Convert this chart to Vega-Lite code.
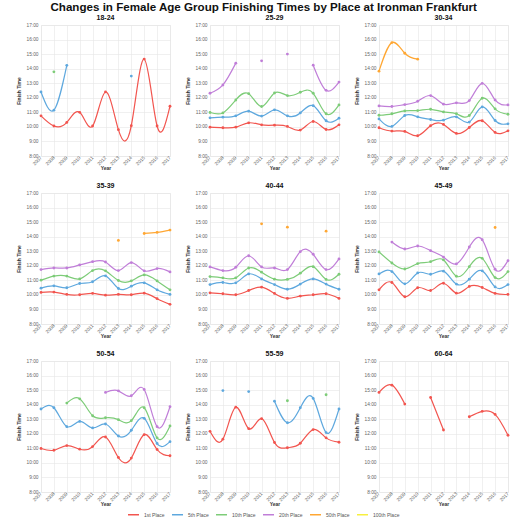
{
  "$schema": "https://vega.github.io/schema/vega-lite/v6.json",
  "title": {"text": "Changes in Female Age Group Finishing Times by Place at Ironman Frankfurt", "fontSize": 11.6, "font": "Liberation Sans", "fontWeight": "bold", "color": "#111", "offset": 0, "anchor": "middle"},
  "padding": {"left": 16, "top": 1, "right": 8, "bottom": 0},
  "data": {"values": [
    {"g": "18-24", "yr": 2007, "p": "1st Place", "t": 10.76},
    {"g": "18-24", "yr": 2008, "p": "1st Place", "t": 10.06},
    {"g": "18-24", "yr": 2009, "p": "1st Place", "t": 10.31},
    {"g": "18-24", "yr": 2010, "p": "1st Place", "t": 11.0},
    {"g": "18-24", "yr": 2011, "p": "1st Place", "t": 10.06},
    {"g": "18-24", "yr": 2012, "p": "1st Place", "t": 12.4},
    {"g": "18-24", "yr": 2013, "p": "1st Place", "t": 9.81},
    {"g": "18-24", "yr": 2014, "p": "1st Place", "t": 10.08},
    {"g": "18-24", "yr": 2015, "p": "1st Place", "t": 14.66},
    {"g": "18-24", "yr": 2016, "p": "1st Place", "t": 10.06},
    {"g": "18-24", "yr": 2017, "p": "1st Place", "t": 11.42},
    {"g": "18-24", "yr": 2007, "p": "5th Place", "t": 12.4},
    {"g": "18-24", "yr": 2008, "p": "5th Place", "t": 11.15},
    {"g": "18-24", "yr": 2009, "p": "5th Place", "t": 14.23},
    {"g": "18-24", "yr": 2010, "p": "5th Place", "t": null},
    {"g": "18-24", "yr": 2014, "p": "5th Place", "t": 13.49},
    {"g": "18-24", "yr": 2008, "p": "10th Place", "t": 13.78},

    {"g": "25-29", "yr": 2007, "p": "1st Place", "t": 9.98},
    {"g": "25-29", "yr": 2008, "p": "1st Place", "t": 9.94},
    {"g": "25-29", "yr": 2009, "p": "1st Place", "t": 9.98},
    {"g": "25-29", "yr": 2010, "p": "1st Place", "t": 10.28},
    {"g": "25-29", "yr": 2011, "p": "1st Place", "t": 10.14},
    {"g": "25-29", "yr": 2012, "p": "1st Place", "t": 10.12},
    {"g": "25-29", "yr": 2013, "p": "1st Place", "t": 10.03},
    {"g": "25-29", "yr": 2014, "p": "1st Place", "t": 9.78},
    {"g": "25-29", "yr": 2015, "p": "1st Place", "t": 10.37},
    {"g": "25-29", "yr": 2016, "p": "1st Place", "t": 9.82},
    {"g": "25-29", "yr": 2017, "p": "1st Place", "t": 10.14},
    {"g": "25-29", "yr": 2007, "p": "5th Place", "t": 10.62},
    {"g": "25-29", "yr": 2008, "p": "5th Place", "t": 10.67},
    {"g": "25-29", "yr": 2009, "p": "5th Place", "t": 10.76},
    {"g": "25-29", "yr": 2010, "p": "5th Place", "t": 11.08},
    {"g": "25-29", "yr": 2011, "p": "5th Place", "t": 10.74},
    {"g": "25-29", "yr": 2012, "p": "5th Place", "t": 11.17},
    {"g": "25-29", "yr": 2013, "p": "5th Place", "t": 10.76},
    {"g": "25-29", "yr": 2014, "p": "5th Place", "t": 10.96},
    {"g": "25-29", "yr": 2015, "p": "5th Place", "t": 11.46},
    {"g": "25-29", "yr": 2016, "p": "5th Place", "t": 10.42},
    {"g": "25-29", "yr": 2017, "p": "5th Place", "t": 10.6},
    {"g": "25-29", "yr": 2007, "p": "10th Place", "t": 10.99},
    {"g": "25-29", "yr": 2008, "p": "10th Place", "t": 10.96},
    {"g": "25-29", "yr": 2009, "p": "10th Place", "t": 11.85},
    {"g": "25-29", "yr": 2010, "p": "10th Place", "t": 12.28},
    {"g": "25-29", "yr": 2011, "p": "10th Place", "t": 11.4},
    {"g": "25-29", "yr": 2012, "p": "10th Place", "t": 12.33},
    {"g": "25-29", "yr": 2013, "p": "10th Place", "t": 12.15},
    {"g": "25-29", "yr": 2014, "p": "10th Place", "t": 12.38},
    {"g": "25-29", "yr": 2015, "p": "10th Place", "t": 12.31},
    {"g": "25-29", "yr": 2016, "p": "10th Place", "t": 10.9},
    {"g": "25-29", "yr": 2017, "p": "10th Place", "t": 11.51},
    {"g": "25-29", "yr": 2007, "p": "20th Place", "t": 12.31},
    {"g": "25-29", "yr": 2008, "p": "20th Place", "t": 12.88},
    {"g": "25-29", "yr": 2009, "p": "20th Place", "t": 14.38},
    {"g": "25-29", "yr": 2010, "p": "20th Place", "t": null},
    {"g": "25-29", "yr": 2011, "p": "20th Place", "t": 14.54},
    {"g": "25-29", "yr": 2012, "p": "20th Place", "t": null},
    {"g": "25-29", "yr": 2013, "p": "20th Place", "t": 15.0},
    {"g": "25-29", "yr": 2014, "p": "20th Place", "t": null},
    {"g": "25-29", "yr": 2015, "p": "20th Place", "t": 14.24},
    {"g": "25-29", "yr": 2016, "p": "20th Place", "t": 12.51},
    {"g": "25-29", "yr": 2017, "p": "20th Place", "t": 13.08},

    {"g": "30-34", "yr": 2007, "p": "1st Place", "t": 9.94},
    {"g": "30-34", "yr": 2008, "p": "1st Place", "t": 9.71},
    {"g": "30-34", "yr": 2009, "p": "1st Place", "t": 9.69},
    {"g": "30-34", "yr": 2010, "p": "1st Place", "t": 9.39},
    {"g": "30-34", "yr": 2011, "p": "1st Place", "t": 10.08},
    {"g": "30-34", "yr": 2012, "p": "1st Place", "t": 10.17},
    {"g": "30-34", "yr": 2013, "p": "1st Place", "t": 9.55},
    {"g": "30-34", "yr": 2014, "p": "1st Place", "t": 9.96},
    {"g": "30-34", "yr": 2015, "p": "1st Place", "t": 10.42},
    {"g": "30-34", "yr": 2016, "p": "1st Place", "t": 9.62},
    {"g": "30-34", "yr": 2017, "p": "1st Place", "t": 9.73},
    {"g": "30-34", "yr": 2007, "p": "5th Place", "t": 10.55},
    {"g": "30-34", "yr": 2008, "p": "5th Place", "t": 10.03},
    {"g": "30-34", "yr": 2009, "p": "5th Place", "t": 10.78},
    {"g": "30-34", "yr": 2010, "p": "5th Place", "t": 10.69},
    {"g": "30-34", "yr": 2011, "p": "5th Place", "t": 10.51},
    {"g": "30-34", "yr": 2012, "p": "5th Place", "t": 10.46},
    {"g": "30-34", "yr": 2013, "p": "5th Place", "t": 10.69},
    {"g": "30-34", "yr": 2014, "p": "5th Place", "t": 10.33},
    {"g": "30-34", "yr": 2015, "p": "5th Place", "t": 11.37},
    {"g": "30-34", "yr": 2016, "p": "5th Place", "t": 10.44},
    {"g": "30-34", "yr": 2017, "p": "5th Place", "t": 10.21},
    {"g": "30-34", "yr": 2007, "p": "10th Place", "t": 10.8},
    {"g": "30-34", "yr": 2008, "p": "10th Place", "t": 10.9},
    {"g": "30-34", "yr": 2009, "p": "10th Place", "t": 11.1},
    {"g": "30-34", "yr": 2010, "p": "10th Place", "t": 11.12},
    {"g": "30-34", "yr": 2011, "p": "10th Place", "t": 11.21},
    {"g": "30-34", "yr": 2012, "p": "10th Place", "t": 11.03},
    {"g": "30-34", "yr": 2013, "p": "10th Place", "t": 10.9},
    {"g": "30-34", "yr": 2014, "p": "10th Place", "t": 10.78},
    {"g": "30-34", "yr": 2015, "p": "10th Place", "t": 11.97},
    {"g": "30-34", "yr": 2016, "p": "10th Place", "t": 11.24},
    {"g": "30-34", "yr": 2017, "p": "10th Place", "t": 10.87},
    {"g": "30-34", "yr": 2007, "p": "20th Place", "t": 11.44},
    {"g": "30-34", "yr": 2008, "p": "20th Place", "t": 11.4},
    {"g": "30-34", "yr": 2009, "p": "20th Place", "t": 11.53},
    {"g": "30-34", "yr": 2010, "p": "20th Place", "t": 11.76},
    {"g": "30-34", "yr": 2011, "p": "20th Place", "t": 12.15},
    {"g": "30-34", "yr": 2012, "p": "20th Place", "t": 11.56},
    {"g": "30-34", "yr": 2013, "p": "20th Place", "t": 11.65},
    {"g": "30-34", "yr": 2014, "p": "20th Place", "t": 11.81},
    {"g": "30-34", "yr": 2015, "p": "20th Place", "t": 12.99},
    {"g": "30-34", "yr": 2016, "p": "20th Place", "t": 11.85},
    {"g": "30-34", "yr": 2017, "p": "20th Place", "t": 11.51},
    {"g": "30-34", "yr": 2007, "p": "50th Place", "t": 13.83},
    {"g": "30-34", "yr": 2008, "p": "50th Place", "t": 15.79},
    {"g": "30-34", "yr": 2009, "p": "50th Place", "t": 15.06},
    {"g": "30-34", "yr": 2010, "p": "50th Place", "t": 14.65},

    {"g": "35-39", "yr": 2007, "p": "1st Place", "t": 10.17},
    {"g": "35-39", "yr": 2008, "p": "1st Place", "t": 10.19},
    {"g": "35-39", "yr": 2009, "p": "1st Place", "t": 10.03},
    {"g": "35-39", "yr": 2010, "p": "1st Place", "t": 10.01},
    {"g": "35-39", "yr": 2011, "p": "1st Place", "t": 10.1},
    {"g": "35-39", "yr": 2012, "p": "1st Place", "t": 9.98},
    {"g": "35-39", "yr": 2013, "p": "1st Place", "t": 10.03},
    {"g": "35-39", "yr": 2014, "p": "1st Place", "t": 10.01},
    {"g": "35-39", "yr": 2015, "p": "1st Place", "t": 10.12},
    {"g": "35-39", "yr": 2016, "p": "1st Place", "t": 9.74},
    {"g": "35-39", "yr": 2017, "p": "1st Place", "t": 9.35},
    {"g": "35-39", "yr": 2007, "p": "5th Place", "t": 10.46},
    {"g": "35-39", "yr": 2008, "p": "5th Place", "t": 10.62},
    {"g": "35-39", "yr": 2009, "p": "5th Place", "t": 10.49},
    {"g": "35-39", "yr": 2010, "p": "5th Place", "t": 10.78},
    {"g": "35-39", "yr": 2011, "p": "5th Place", "t": 10.9},
    {"g": "35-39", "yr": 2012, "p": "5th Place", "t": 11.31},
    {"g": "35-39", "yr": 2013, "p": "5th Place", "t": 10.44},
    {"g": "35-39", "yr": 2014, "p": "5th Place", "t": 10.6},
    {"g": "35-39", "yr": 2015, "p": "5th Place", "t": 10.83},
    {"g": "35-39", "yr": 2016, "p": "5th Place", "t": 10.35},
    {"g": "35-39", "yr": 2017, "p": "5th Place", "t": 10.03},
    {"g": "35-39", "yr": 2007, "p": "10th Place", "t": 11.01},
    {"g": "35-39", "yr": 2008, "p": "10th Place", "t": 11.29},
    {"g": "35-39", "yr": 2009, "p": "10th Place", "t": 11.29},
    {"g": "35-39", "yr": 2010, "p": "10th Place", "t": 11.1},
    {"g": "35-39", "yr": 2011, "p": "10th Place", "t": 11.67},
    {"g": "35-39", "yr": 2012, "p": "10th Place", "t": 11.65},
    {"g": "35-39", "yr": 2013, "p": "10th Place", "t": 10.99},
    {"g": "35-39", "yr": 2014, "p": "10th Place", "t": 10.96},
    {"g": "35-39", "yr": 2015, "p": "10th Place", "t": 11.37},
    {"g": "35-39", "yr": 2016, "p": "10th Place", "t": 10.96},
    {"g": "35-39", "yr": 2017, "p": "10th Place", "t": 10.35},
    {"g": "35-39", "yr": 2007, "p": "20th Place", "t": 11.74},
    {"g": "35-39", "yr": 2008, "p": "20th Place", "t": 11.85},
    {"g": "35-39", "yr": 2009, "p": "20th Place", "t": 11.85},
    {"g": "35-39", "yr": 2010, "p": "20th Place", "t": 12.06},
    {"g": "35-39", "yr": 2011, "p": "20th Place", "t": 12.28},
    {"g": "35-39", "yr": 2012, "p": "20th Place", "t": 12.26},
    {"g": "35-39", "yr": 2013, "p": "20th Place", "t": 11.67},
    {"g": "35-39", "yr": 2014, "p": "20th Place", "t": 12.22},
    {"g": "35-39", "yr": 2015, "p": "20th Place", "t": 11.65},
    {"g": "35-39", "yr": 2016, "p": "20th Place", "t": 11.81},
    {"g": "35-39", "yr": 2017, "p": "20th Place", "t": 11.58},
    {"g": "35-39", "yr": 2013, "p": "50th Place", "t": 13.74},
    {"g": "35-39", "yr": 2014, "p": "50th Place", "t": null},
    {"g": "35-39", "yr": 2015, "p": "50th Place", "t": 14.22},
    {"g": "35-39", "yr": 2016, "p": "50th Place", "t": 14.29},
    {"g": "35-39", "yr": 2017, "p": "50th Place", "t": 14.45},

    {"g": "40-44", "yr": 2007, "p": "1st Place", "t": 10.14},
    {"g": "40-44", "yr": 2008, "p": "1st Place", "t": 10.08},
    {"g": "40-44", "yr": 2009, "p": "1st Place", "t": 10.01},
    {"g": "40-44", "yr": 2010, "p": "1st Place", "t": 10.3},
    {"g": "40-44", "yr": 2011, "p": "1st Place", "t": 10.53},
    {"g": "40-44", "yr": 2012, "p": "1st Place", "t": 10.1},
    {"g": "40-44", "yr": 2013, "p": "1st Place", "t": 9.76},
    {"g": "40-44", "yr": 2014, "p": "1st Place", "t": 9.92},
    {"g": "40-44", "yr": 2015, "p": "1st Place", "t": 10.01},
    {"g": "40-44", "yr": 2016, "p": "1st Place", "t": 10.08},
    {"g": "40-44", "yr": 2017, "p": "1st Place", "t": 9.76},
    {"g": "40-44", "yr": 2007, "p": "5th Place", "t": 10.71},
    {"g": "40-44", "yr": 2008, "p": "5th Place", "t": 10.85},
    {"g": "40-44", "yr": 2009, "p": "5th Place", "t": 10.83},
    {"g": "40-44", "yr": 2010, "p": "5th Place", "t": 11.44},
    {"g": "40-44", "yr": 2011, "p": "5th Place", "t": 11.1},
    {"g": "40-44", "yr": 2012, "p": "5th Place", "t": 10.71},
    {"g": "40-44", "yr": 2013, "p": "5th Place", "t": 10.39},
    {"g": "40-44", "yr": 2014, "p": "5th Place", "t": 10.74},
    {"g": "40-44", "yr": 2015, "p": "5th Place", "t": 11.1},
    {"g": "40-44", "yr": 2016, "p": "5th Place", "t": 10.74},
    {"g": "40-44", "yr": 2017, "p": "5th Place", "t": 10.39},
    {"g": "40-44", "yr": 2007, "p": "10th Place", "t": 11.26},
    {"g": "40-44", "yr": 2008, "p": "10th Place", "t": 11.17},
    {"g": "40-44", "yr": 2009, "p": "10th Place", "t": 11.17},
    {"g": "40-44", "yr": 2010, "p": "10th Place", "t": 11.85},
    {"g": "40-44", "yr": 2011, "p": "10th Place", "t": 11.56},
    {"g": "40-44", "yr": 2012, "p": "10th Place", "t": 11.08},
    {"g": "40-44", "yr": 2013, "p": "10th Place", "t": 11.06},
    {"g": "40-44", "yr": 2014, "p": "10th Place", "t": 11.49},
    {"g": "40-44", "yr": 2015, "p": "10th Place", "t": 11.94},
    {"g": "40-44", "yr": 2016, "p": "10th Place", "t": 11.06},
    {"g": "40-44", "yr": 2017, "p": "10th Place", "t": 11.42},
    {"g": "40-44", "yr": 2007, "p": "20th Place", "t": 11.92},
    {"g": "40-44", "yr": 2008, "p": "20th Place", "t": 11.67},
    {"g": "40-44", "yr": 2009, "p": "20th Place", "t": 11.9},
    {"g": "40-44", "yr": 2010, "p": "20th Place", "t": 12.69},
    {"g": "40-44", "yr": 2011, "p": "20th Place", "t": 11.92},
    {"g": "40-44", "yr": 2012, "p": "20th Place", "t": 11.85},
    {"g": "40-44", "yr": 2013, "p": "20th Place", "t": 11.74},
    {"g": "40-44", "yr": 2014, "p": "20th Place", "t": 12.97},
    {"g": "40-44", "yr": 2015, "p": "20th Place", "t": 12.79},
    {"g": "40-44", "yr": 2016, "p": "20th Place", "t": 11.74},
    {"g": "40-44", "yr": 2017, "p": "20th Place", "t": 12.47},
    {"g": "40-44", "yr": 2011, "p": "50th Place", "t": 14.88},
    {"g": "40-44", "yr": 2012, "p": "50th Place", "t": null},
    {"g": "40-44", "yr": 2013, "p": "50th Place", "t": 14.65},
    {"g": "40-44", "yr": 2014, "p": "50th Place", "t": null},
    {"g": "40-44", "yr": 2016, "p": "50th Place", "t": 14.38},

    {"g": "45-49", "yr": 2007, "p": "1st Place", "t": 10.35},
    {"g": "45-49", "yr": 2008, "p": "1st Place", "t": 10.85},
    {"g": "45-49", "yr": 2009, "p": "1st Place", "t": 9.87},
    {"g": "45-49", "yr": 2010, "p": "1st Place", "t": 10.49},
    {"g": "45-49", "yr": 2011, "p": "1st Place", "t": 10.3},
    {"g": "45-49", "yr": 2012, "p": "1st Place", "t": 10.8},
    {"g": "45-49", "yr": 2013, "p": "1st Place", "t": 10.12},
    {"g": "45-49", "yr": 2014, "p": "1st Place", "t": 10.58},
    {"g": "45-49", "yr": 2015, "p": "1st Place", "t": 10.51},
    {"g": "45-49", "yr": 2016, "p": "1st Place", "t": 10.1},
    {"g": "45-49", "yr": 2017, "p": "1st Place", "t": 10.03},
    {"g": "45-49", "yr": 2007, "p": "5th Place", "t": 11.44},
    {"g": "45-49", "yr": 2008, "p": "5th Place", "t": 11.6},
    {"g": "45-49", "yr": 2009, "p": "5th Place", "t": 10.76},
    {"g": "45-49", "yr": 2010, "p": "5th Place", "t": 11.51},
    {"g": "45-49", "yr": 2011, "p": "5th Place", "t": 11.42},
    {"g": "45-49", "yr": 2012, "p": "5th Place", "t": 11.63},
    {"g": "45-49", "yr": 2013, "p": "5th Place", "t": 10.74},
    {"g": "45-49", "yr": 2014, "p": "5th Place", "t": 11.08},
    {"g": "45-49", "yr": 2015, "p": "5th Place", "t": 11.65},
    {"g": "45-49", "yr": 2016, "p": "5th Place", "t": 10.55},
    {"g": "45-49", "yr": 2017, "p": "5th Place", "t": 10.71},
    {"g": "45-49", "yr": 2007, "p": "10th Place", "t": 12.95},
    {"g": "45-49", "yr": 2008, "p": "10th Place", "t": 12.19},
    {"g": "45-49", "yr": 2009, "p": "10th Place", "t": 11.78},
    {"g": "45-49", "yr": 2010, "p": "10th Place", "t": 12.15},
    {"g": "45-49", "yr": 2011, "p": "10th Place", "t": 12.28},
    {"g": "45-49", "yr": 2012, "p": "10th Place", "t": 12.4},
    {"g": "45-49", "yr": 2013, "p": "10th Place", "t": 11.28},
    {"g": "45-49", "yr": 2014, "p": "10th Place", "t": 11.94},
    {"g": "45-49", "yr": 2015, "p": "10th Place", "t": 12.51},
    {"g": "45-49", "yr": 2016, "p": "10th Place", "t": 11.19},
    {"g": "45-49", "yr": 2017, "p": "10th Place", "t": 11.6},
    {"g": "45-49", "yr": 2008, "p": "20th Place", "t": 13.63},
    {"g": "45-49", "yr": 2009, "p": "20th Place", "t": 13.15},
    {"g": "45-49", "yr": 2010, "p": "20th Place", "t": 13.36},
    {"g": "45-49", "yr": 2011, "p": "20th Place", "t": 13.04},
    {"g": "45-49", "yr": 2012, "p": "20th Place", "t": 12.6},
    {"g": "45-49", "yr": 2013, "p": "20th Place", "t": 12.13},
    {"g": "45-49", "yr": 2014, "p": "20th Place", "t": 13.29},
    {"g": "45-49", "yr": 2015, "p": "20th Place", "t": 13.79},
    {"g": "45-49", "yr": 2016, "p": "20th Place", "t": 11.76},
    {"g": "45-49", "yr": 2017, "p": "20th Place", "t": 12.35},
    {"g": "45-49", "yr": 2016, "p": "50th Place", "t": 14.63},

    {"g": "50-54", "yr": 2007, "p": "1st Place", "t": 10.99},
    {"g": "50-54", "yr": 2008, "p": "1st Place", "t": 10.87},
    {"g": "50-54", "yr": 2009, "p": "1st Place", "t": 11.19},
    {"g": "50-54", "yr": 2010, "p": "1st Place", "t": 10.94},
    {"g": "50-54", "yr": 2011, "p": "1st Place", "t": 11.12},
    {"g": "50-54", "yr": 2012, "p": "1st Place", "t": 11.78},
    {"g": "50-54", "yr": 2013, "p": "1st Place", "t": 10.37},
    {"g": "50-54", "yr": 2014, "p": "1st Place", "t": 10.33},
    {"g": "50-54", "yr": 2015, "p": "1st Place", "t": 11.94},
    {"g": "50-54", "yr": 2016, "p": "1st Place", "t": 10.92},
    {"g": "50-54", "yr": 2017, "p": "1st Place", "t": 10.49},
    {"g": "50-54", "yr": 2007, "p": "5th Place", "t": 13.7},
    {"g": "50-54", "yr": 2008, "p": "5th Place", "t": 13.79},
    {"g": "50-54", "yr": 2009, "p": "5th Place", "t": 12.49},
    {"g": "50-54", "yr": 2010, "p": "5th Place", "t": 12.85},
    {"g": "50-54", "yr": 2011, "p": "5th Place", "t": 12.4},
    {"g": "50-54", "yr": 2012, "p": "5th Place", "t": 12.67},
    {"g": "50-54", "yr": 2013, "p": "5th Place", "t": 11.85},
    {"g": "50-54", "yr": 2014, "p": "5th Place", "t": 12.24},
    {"g": "50-54", "yr": 2015, "p": "5th Place", "t": 13.06},
    {"g": "50-54", "yr": 2016, "p": "5th Place", "t": 11.33},
    {"g": "50-54", "yr": 2017, "p": "5th Place", "t": 11.46},
    {"g": "50-54", "yr": 2009, "p": "10th Place", "t": 14.11},
    {"g": "50-54", "yr": 2010, "p": "10th Place", "t": 14.4},
    {"g": "50-54", "yr": 2011, "p": "10th Place", "t": 13.24},
    {"g": "50-54", "yr": 2012, "p": "10th Place", "t": 13.1},
    {"g": "50-54", "yr": 2013, "p": "10th Place", "t": 12.97},
    {"g": "50-54", "yr": 2014, "p": "10th Place", "t": 12.9},
    {"g": "50-54", "yr": 2015, "p": "10th Place", "t": 13.79},
    {"g": "50-54", "yr": 2016, "p": "10th Place", "t": 11.72},
    {"g": "50-54", "yr": 2017, "p": "10th Place", "t": 12.54},
    {"g": "50-54", "yr": 2012, "p": "20th Place", "t": 14.84},
    {"g": "50-54", "yr": 2013, "p": "20th Place", "t": 14.95},
    {"g": "50-54", "yr": 2014, "p": "20th Place", "t": 14.61},
    {"g": "50-54", "yr": 2015, "p": "20th Place", "t": 15.04},
    {"g": "50-54", "yr": 2016, "p": "20th Place", "t": 12.49},
    {"g": "50-54", "yr": 2017, "p": "20th Place", "t": 13.86},

    {"g": "55-59", "yr": 2007, "p": "1st Place", "t": 12.17},
    {"g": "55-59", "yr": 2008, "p": "1st Place", "t": 11.63},
    {"g": "55-59", "yr": 2009, "p": "1st Place", "t": 13.83},
    {"g": "55-59", "yr": 2010, "p": "1st Place", "t": 12.35},
    {"g": "55-59", "yr": 2011, "p": "1st Place", "t": 13.04},
    {"g": "55-59", "yr": 2012, "p": "1st Place", "t": 11.4},
    {"g": "55-59", "yr": 2013, "p": "1st Place", "t": 11.04},
    {"g": "55-59", "yr": 2014, "p": "1st Place", "t": 11.35},
    {"g": "55-59", "yr": 2015, "p": "1st Place", "t": 12.29},
    {"g": "55-59", "yr": 2016, "p": "1st Place", "t": 11.72},
    {"g": "55-59", "yr": 2017, "p": "1st Place", "t": 11.42},
    {"g": "55-59", "yr": 2008, "p": "5th Place", "t": 14.97},
    {"g": "55-59", "yr": 2009, "p": "5th Place", "t": null},
    {"g": "55-59", "yr": 2010, "p": "5th Place", "t": 14.9},
    {"g": "55-59", "yr": 2011, "p": "5th Place", "t": null},
    {"g": "55-59", "yr": 2012, "p": "5th Place", "t": 14.24},
    {"g": "55-59", "yr": 2013, "p": "5th Place", "t": 12.76},
    {"g": "55-59", "yr": 2014, "p": "5th Place", "t": 13.79},
    {"g": "55-59", "yr": 2015, "p": "5th Place", "t": 14.43},
    {"g": "55-59", "yr": 2016, "p": "5th Place", "t": 12.08},
    {"g": "55-59", "yr": 2017, "p": "5th Place", "t": 13.7},
    {"g": "55-59", "yr": 2013, "p": "10th Place", "t": 14.27},
    {"g": "55-59", "yr": 2014, "p": "10th Place", "t": null},
    {"g": "55-59", "yr": 2016, "p": "10th Place", "t": 14.68},

    {"g": "60-64", "yr": 2007, "p": "1st Place", "t": 14.84},
    {"g": "60-64", "yr": 2008, "p": "1st Place", "t": 15.34},
    {"g": "60-64", "yr": 2009, "p": "1st Place", "t": 14.04},
    {"g": "60-64", "yr": 2010, "p": "1st Place", "t": null},
    {"g": "60-64", "yr": 2011, "p": "1st Place", "t": 14.49},
    {"g": "60-64", "yr": 2012, "p": "1st Place", "t": 12.26},
    {"g": "60-64", "yr": 2013, "p": "1st Place", "t": null},
    {"g": "60-64", "yr": 2014, "p": "1st Place", "t": 13.17},
    {"g": "60-64", "yr": 2015, "p": "1st Place", "t": 13.54},
    {"g": "60-64", "yr": 2016, "p": "1st Place", "t": 13.33},
    {"g": "60-64", "yr": 2017, "p": "1st Place", "t": 11.9}
  ]},
  "facet": {
    "field": "g",
    "type": "ordinal",
    "title": null,
    "header": {"labelFontSize": 7, "labelFontWeight": "bold", "labelFont": "Liberation Sans", "labelColor": "#111", "labelPadding": 1}
  },
  "columns": 3,
  "spacing": {"row": 9, "column": 12},
  "resolve": {"axis": {"x": "independent", "y": "independent"}},
  "spec": {
    "width": 129,
    "height": 131,
    "encoding": {
      "x": {
        "field": "yr",
        "type": "quantitative",
        "scale": {"domain": [2007, 2017], "nice": false, "zero": false},
        "axis": {"title": "Year", "values": [2007, 2008, 2009, 2010, 2011, 2012, 2013, 2014, 2015, 2016, 2017], "format": "d", "labelAngle": -45, "labelAlign": "right", "labelBaseline": "middle", "labelPadding": 1, "titlePadding": 0}
      },
      "y": {
        "field": "t",
        "type": "quantitative",
        "scale": {"domain": [8, 17], "nice": false, "zero": false},
        "axis": {"title": "Finish Time", "values": [8, 9, 10, 11, 12, 13, 14, 15, 16, 17], "labelExpr": "datum.value + ':00'"}
      },
      "color": {
        "field": "p",
        "type": "nominal",
        "title": null,
        "scale": {
          "domain": ["1st Place", "5th Place", "10th Place", "20th Place", "50th Place", "100th Place"],
          "range": ["#f2554f", "#5ea8de", "#7dcc78", "#c07ed8", "#ffa733", "#f7ef3f"]
        },
        "legend": {
          "orient": "bottom",
          "direction": "horizontal",
          "symbolType": "stroke",
          "symbolStrokeWidth": 1.5,
          "symbolSize": 120,
          "labelFontSize": 5,
          "labelColor": "#555",
          "labelFont": "Liberation Sans",
          "columnPadding": 4,
          "offset": 0,
          "padding": 0
        }
      }
    },
    "layer": [
      {"mark": {"type": "line", "interpolate": "natural", "strokeWidth": 1.2, "invalid": "break-paths-show-domains"}},
      {"mark": {"type": "point", "filled": true, "size": 8, "opacity": 1}}
    ]
  },
  "config": {
    "font": "Liberation Sans",
    "view": {"stroke": "#eeeeee"},
    "legend": {"layout": {"bottom": {"anchor": "middle"}}},
    "axis": {
      "labelFontSize": 4.8,
      "labelColor": "#666",
      "labelPadding": 3,
      "titleFontSize": 5,
      "titleFontWeight": "bold",
      "titleColor": "#333",
      "titlePadding": 4,
      "gridColor": "#e6e6e6",
      "gridWidth": 0.6,
      "domain": false,
      "ticks": false
    }
  }
}
